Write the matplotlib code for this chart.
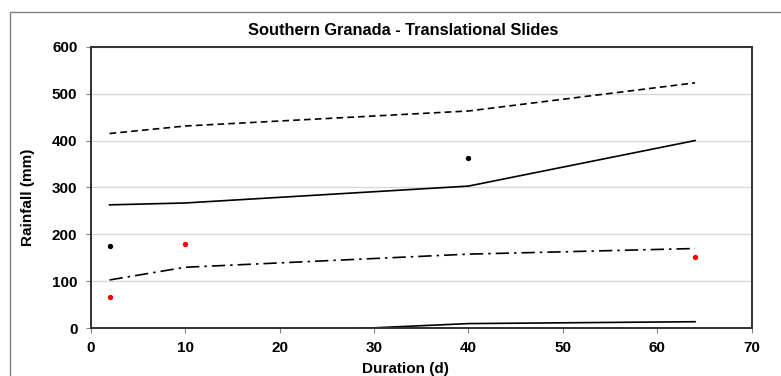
import matplotlib.pyplot as plt
from matplotlib.patches import Rectangle

# durations (days)
duration = [2, 10, 40, 64]

# threshold curves (mm)
upper_dashed = [415, 431, 463, 523]
mid_solid = [263, 267, 303, 400]
dash_dot = [103, 130, 158, 170]
lower_solid = [-25, -17, 10, 14]

# observed events
black_x = [2, 40]
black_y = [175, 362]
red_x = [2, 10, 64]
red_y = [67, 180, 151]

plt.rcParams['font.family'] = ['Liberation Sans', 'DejaVu Sans']

fig = plt.figure(figsize=(7.81, 3.76), dpi=100)
ax = fig.add_axes([0.1161, 0.1269, 0.8464, 0.7489])

# outer chart frame (runs off the right and bottom edge)
fig.patches.append(Rectangle((10 / 781, -0.1), 1.2, 1 - 12 / 376 + 0.1,
                             transform=fig.transFigure, fill=False,
                             edgecolor='#808080', linewidth=1.0))

ax.plot(duration, upper_dashed, color='black', lw=1.2, dashes=(4, 2.5))
ax.plot(duration, mid_solid, color='black', lw=1.2)
ax.plot(duration, dash_dot, color='black', lw=1.2, dashes=(8, 3, 1.5, 3))
ax.plot(duration, lower_solid, color='black', lw=1.2)

ax.scatter(black_x, black_y, s=8, color='black', zorder=5)
ax.scatter(red_x, red_y, s=8, color='red', zorder=5)

ax.set_xlim(0, 70)
ax.set_ylim(0, 600)
ax.set_xticks(range(0, 71, 10))
ax.set_yticks(range(0, 601, 100))
ax.grid(axis='y', color='#d9d9d9', linewidth=1.0)
ax.set_axisbelow(True)

for s in ax.spines.values():
    s.set_linewidth(1.4)
    s.set_color('#303030')

ax.tick_params(direction='out', length=3.5, width=0.8, color='#808080',
               labelsize=11, pad=6)
for lab in ax.get_xticklabels() + ax.get_yticklabels():
    lab.set_fontweight('bold')

# title is centred on the whole chart area, not the plot area
fig.text(403.5 / 781, 1 - 30.7 / 376, 'Southern Granada - Translational Slides',
         ha='center', va='center', fontsize=11.8, fontweight='bold')
ax.set_xlabel('Duration (d)', fontsize=11, fontweight='bold')
ax.set_ylabel('Rainfall (mm)', fontsize=11, fontweight='bold')
ax.xaxis.set_label_coords((405 - 90.7) / 661, -(369 - 328.3) / 281.7)
ax.yaxis.set_label_coords((28 - 90.7) / 661, (328.3 - 197.5) / 281.7)
ax.xaxis.label.set_va('center')
ax.yaxis.label.set_va('center')

fig.savefig('out.png', dpi=100)
